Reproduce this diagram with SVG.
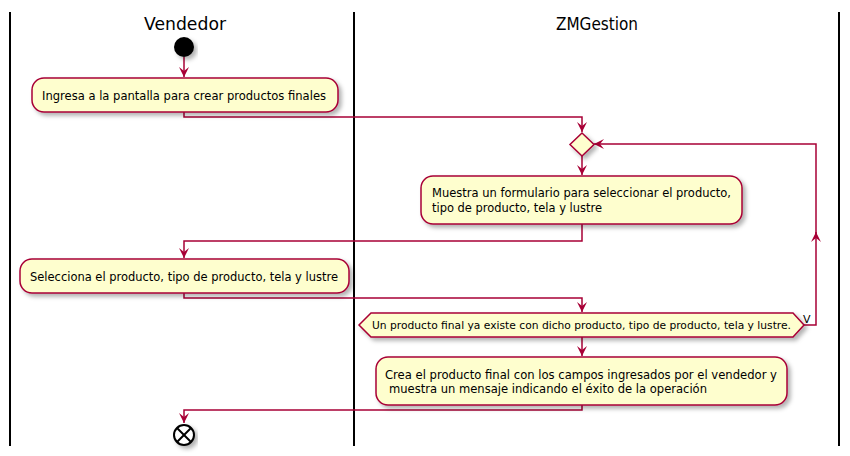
<svg xmlns="http://www.w3.org/2000/svg" width="850" height="456" viewBox="0 0 850 456">
<style>
.lane{stroke:#000;stroke-width:2;fill:none}
.title{font-family:"DejaVu Sans",sans-serif;font-size:18px;fill:#000;text-anchor:middle}
.act{fill:#FEFECE;stroke:#A80036;stroke-width:1.5;filter:url(#sh)}
.t{font-family:"DejaVu Sans",sans-serif;font-size:12px;fill:#000}
.ts{font-family:"DejaVu Sans",sans-serif;font-size:11px;fill:#000}
.c{stroke:#A80036;stroke-width:1.5;fill:none}
</style>
<defs>
<filter id="sh" x="-10%" y="-30%" width="130%" height="170%">
<feDropShadow dx="3" dy="3" stdDeviation="2" flood-color="#000" flood-opacity="0.3"/>
</filter>
<marker id="ah" viewBox="0 0 10 10" refX="10" refY="5" markerWidth="10" markerHeight="10" markerUnits="userSpaceOnUse" orient="auto">
<path d="M0,0 L10,5 L0,10 L4,5 Z" fill="#A80036"/>
</marker>
</defs>
<g id="lanes">
<line class="lane" x1="10" y1="12" x2="10" y2="446"/>
<line class="lane" x1="354" y1="12" x2="354" y2="446"/>
<line class="lane" x1="839" y1="12" x2="839" y2="446"/>
<text class="title" x="185" y="30" textLength="82" lengthAdjust="spacingAndGlyphs">Vendedor</text>
<text class="title" x="597" y="30" textLength="82" lengthAdjust="spacingAndGlyphs">ZMGestion</text>
</g>
<g id="connectors">
<line class="c" x1="184" y1="57" x2="184" y2="77" marker-end="url(#ah)"/>
<polyline class="c" points="184,112 184,117 582,117 582,132" marker-end="url(#ah)"/>
<line class="c" x1="582" y1="156" x2="582" y2="175" marker-end="url(#ah)"/>
<polyline class="c" points="582,224 582,241 184,241 184,258" marker-end="url(#ah)"/>
<polyline class="c" points="184,293 184,298 582,298 582,312" marker-end="url(#ah)"/>
<line class="c" x1="582" y1="337" x2="582" y2="356" marker-end="url(#ah)"/>
<polyline class="c" points="804,325 816,325 816,232" marker-end="url(#ah)"/>
<polyline class="c" points="816,234 816,144 594,144" marker-end="url(#ah)"/>
<polyline class="c" points="582,405 582,410 184,410 184,423" marker-end="url(#ah)"/>
<text class="ts" x="803" y="323">V</text>
</g>
<g id="start">
<circle cx="184" cy="47" r="10" fill="#000" filter="url(#sh)"/>
</g>
<g id="a1">
<rect class="act" x="32" y="78" width="306" height="34" rx="12"/>
<text class="t" x="42" y="100" textLength="284" lengthAdjust="spacingAndGlyphs">Ingresa a la pantalla para crear productos finales</text>
</g>
<g id="merge">
<polygon class="act" points="582,133 594,144.5 582,156 570,144.5"/>
</g>
<g id="a2">
<rect class="act" x="421" y="176" width="321" height="48" rx="12"/>
<text class="t" x="432" y="197" textLength="299" lengthAdjust="spacingAndGlyphs">Muestra un formulario para seleccionar el producto,</text>
<text class="t" x="432" y="212" textLength="170" lengthAdjust="spacingAndGlyphs">tipo de producto, tela y lustre</text>
</g>
<g id="a3">
<rect class="act" x="20" y="259" width="329" height="34" rx="12"/>
<text class="t" x="30" y="281" textLength="308" lengthAdjust="spacingAndGlyphs">Selecciona el producto, tipo de producto, tela y lustre</text>
</g>
<g id="decision">
<polygon class="act" points="371,313 793,313 804,325 793,337 371,337 359,325"/>
<text class="ts" x="372" y="329" textLength="419" lengthAdjust="spacingAndGlyphs">Un producto final ya existe con dicho producto, tipo de producto, tela y lustre.</text>
</g>
<g id="a4">
<rect class="act" x="376" y="357" width="411" height="48" rx="12"/>
<text class="t" x="385" y="379" textLength="392" lengthAdjust="spacingAndGlyphs">Crea el producto final con los campos ingresados por el vendedor y</text>
<text class="t" x="389" y="393" textLength="318" lengthAdjust="spacingAndGlyphs">muestra un mensaje indicando el éxito de la operación</text>
</g>
<g id="end">
<circle cx="184" cy="435" r="10" fill="#fff" stroke="#000" stroke-width="2" filter="url(#sh)"/>
<line x1="177" y1="428" x2="191" y2="442" stroke="#000" stroke-width="2"/>
<line x1="191" y1="428" x2="177" y2="442" stroke="#000" stroke-width="2"/>
</g>
</svg>
